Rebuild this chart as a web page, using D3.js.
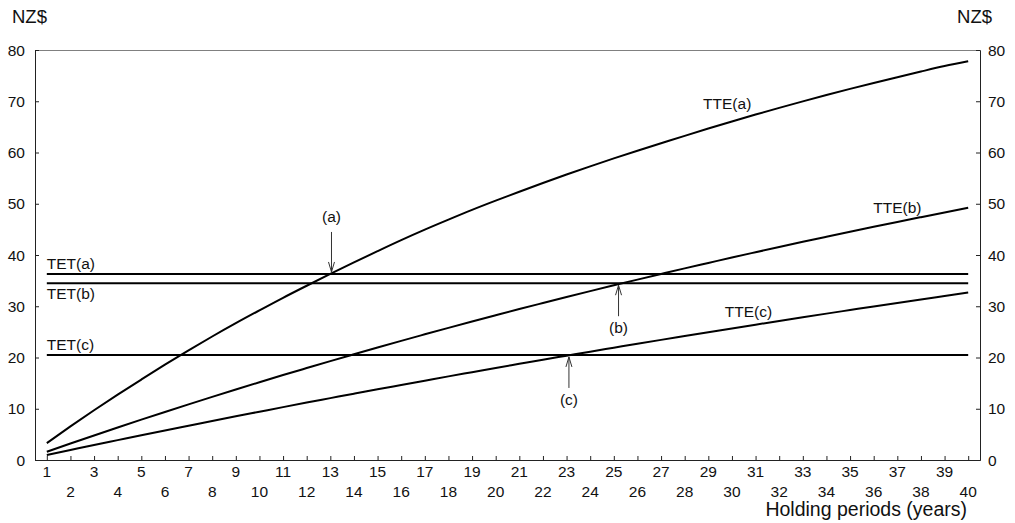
<!DOCTYPE html>
<html>
<head>
<meta charset="utf-8">
<script src="https://cdn.jsdelivr.net/npm/d3@7"></script>
<style>
  html, body { margin: 0; padding: 0; background: #fff; }
  svg { display: block; font-family: "Liberation Sans", Arial, sans-serif; }
</style>
</head>
<body>
<svg id="chart" width="1015" height="523"></svg>
<script>
// ---- data ----
const years = d3.range(1, 41);
const tteA = [3.30, 6.55, 9.70, 12.75, 15.70, 18.60, 21.40, 24.10, 26.70, 29.20,
  31.65, 34.00, 36.30, 38.55, 40.75, 42.90, 44.95, 46.90, 48.80, 50.60,
  52.35, 54.05, 55.70, 57.30, 58.85, 60.35, 61.80, 63.25, 64.67, 66.05,
  67.40, 68.71, 69.98, 71.21, 72.41, 73.57, 74.70, 75.80, 76.86, 77.80];
const tteB = [1.62, 3.22, 4.79, 6.34, 7.87, 9.37, 10.85, 12.31, 13.75, 15.17,
  16.57, 17.94, 19.30, 20.63, 21.95, 23.25, 24.52, 25.78, 27.02, 28.24,
  29.45, 30.63, 31.80, 32.95, 34.08, 35.20, 36.30, 37.39, 38.45, 39.51,
  40.54, 41.56, 42.57, 43.56, 44.54, 45.50, 46.45, 47.38, 48.30, 49.21];
const tteC = [0.99, 1.96, 2.93, 3.88, 4.83, 5.77, 6.69, 7.61, 8.52, 9.42,
  10.32, 11.20, 12.07, 12.94, 13.80, 14.64, 15.48, 16.32, 17.14, 17.96,
  18.76, 19.56, 20.35, 21.14, 21.91, 22.68, 23.44, 24.19, 24.94, 25.68,
  26.41, 27.13, 27.85, 28.56, 29.26, 29.96, 30.65, 31.33, 32.00, 32.67];
const tetLevels = [36.3, 34.5, 20.5];
const tetNames = ["TET(a)", "TET(b)", "TET(c)"];
const yTicks = [0, 10, 20, 30, 40, 50, 60, 70, 80];
const xTicks = d3.range(1, 41);
const tteLabels = [
  {text: "TTE(a)", x: 29.8, y: 68.4},
  {text: "TTE(b)", x: 37.0, y: 48.2},
  {text: "TTE(c)", x: 30.7, y: 27.9}
];
const crossings = [
  {text: "(a)", x: 13.05, y: 36.3, dir: "down"},
  {text: "(b)", x: 25.2, y: 34.5, dir: "up"},
  {text: "(c)", x: 23.1, y: 20.5, dir: "up"}
];

// ---- layout ----
const svg = d3.select("#chart");
const L = 35, R = 980, T = 50, B = 460;
const x = d3.scaleLinear().domain([0.5, 40.5]).range([L, R]);
const y = d3.scaleLinear().domain([0, 80]).range([B, T]);

// top border
svg.append("line").attr("x1", L).attr("x2", R).attr("y1", T + 0.5).attr("y2", T + 0.5)
  .attr("stroke", "#808080").attr("stroke-width", 1.2);

// left axis
const yl = svg.append("g").attr("transform", `translate(${L},0)`)
  .call(d3.axisRight(y).tickValues(yTicks).tickSize(4).tickFormat(""));
yl.select(".domain").attr("stroke", "#222");
yl.selectAll(".tick line").attr("stroke", "#222");
svg.selectAll(".ylab-l").data(yTicks).join("text")
  .attr("x", 25).attr("y", d => y(d)).attr("dy", "0.36em")
  .attr("text-anchor", "end").attr("font-size", 15.5).attr("fill", "#111").text(d => d);

// right axis
const yr = svg.append("g").attr("transform", `translate(${R},0)`)
  .call(d3.axisLeft(y).tickValues(yTicks).tickSize(4).tickFormat(""));
yr.select(".domain").attr("stroke", "#222");
yr.selectAll(".tick line").attr("stroke", "#222");
svg.selectAll(".ylab-r").data(yTicks).join("text")
  .attr("x", 988).attr("y", d => y(d)).attr("dy", "0.36em")
  .attr("text-anchor", "start").attr("font-size", 15.5).attr("fill", "#111").text(d => d);

// bottom axis
const xa = svg.append("g").attr("transform", `translate(0,${B})`)
  .call(d3.axisTop(x).tickValues(xTicks).tickSize(4).tickFormat("").tickSizeOuter(0));
xa.select(".domain").attr("stroke", "#222");
xa.selectAll(".tick line").attr("stroke", "#222");
svg.selectAll(".xlab").data(xTicks).join("text")
  .attr("x", d => x(d)).attr("y", d => d % 2 === 1 ? 477 : 497)
  .attr("text-anchor", "middle").attr("font-size", 15.5).attr("fill", "#111").text(d => d);

// unit labels
svg.append("text").attr("x", 12).attr("y", 23).attr("font-size", 18.5).attr("fill", "#111").text("NZ$");
svg.append("text").attr("x", 992).attr("y", 23).attr("font-size", 18.5).attr("fill", "#111")
  .attr("text-anchor", "end").text("NZ$");
svg.append("text").attr("x", 967).attr("y", 516).attr("font-size", 19.5).attr("fill", "#111")
  .attr("text-anchor", "end").text("Holding periods (years)");

// TET horizontal lines
tetLevels.forEach((v, i) => {
  svg.append("line").attr("x1", x(1)).attr("x2", x(40)).attr("y1", y(v)).attr("y2", y(v))
    .attr("stroke", "#000").attr("stroke-width", 2);
});
svg.append("text").attr("x", x(1)).attr("y", y(tetLevels[0]) - 5).attr("font-size", 15.5).attr("fill", "#111").text(tetNames[0]);
svg.append("text").attr("x", x(1)).attr("y", y(tetLevels[1]) + 16).attr("font-size", 15.5).attr("fill", "#111").text(tetNames[1]);
svg.append("text").attr("x", x(1)).attr("y", y(tetLevels[2]) - 5).attr("font-size", 15.5).attr("fill", "#111").text(tetNames[2]);

// TTE curves
const line = d3.line().x((d, i) => x(years[i])).y(d => y(d)).curve(d3.curveMonotoneX);
[tteA, tteB, tteC].forEach(s => {
  svg.append("path").datum(s).attr("d", line).attr("fill", "none")
    .attr("stroke", "#000").attr("stroke-width", 2);
});
tteLabels.forEach(l => {
  svg.append("text").attr("x", x(l.x)).attr("y", y(l.y)).attr("text-anchor", "middle")
    .attr("font-size", 15.5).attr("fill", "#111").text(l.text);
});

// crossing arrows
crossings.forEach(c => {
  const px = x(c.x), py = y(c.y);
  const gx = svg.append("g").attr("stroke", "#333").attr("stroke-width", 1).attr("fill", "none");
  if (c.dir === "down") {
    gx.append("line").attr("x1", px).attr("x2", px).attr("y1", py - 42).attr("y2", py - 2);
    gx.append("path").attr("d", `M${px - 3},${py - 12} L${px},${py - 2} L${px + 3},${py - 12}`);
    svg.append("text").attr("x", px).attr("y", py - 52).attr("text-anchor", "middle")
      .attr("font-size", 15.5).attr("fill", "#111").text(c.text);
  } else {
    gx.append("line").attr("x1", px).attr("x2", px).attr("y1", py + 2).attr("y2", py + 33);
    gx.append("path").attr("d", `M${px - 3},${py + 12} L${px},${py + 2} L${px + 3},${py + 12}`);
    svg.append("text").attr("x", px).attr("y", py + 50).attr("text-anchor", "middle")
      .attr("font-size", 15.5).attr("fill", "#111").text(c.text);
  }
});
</script>
</body>
</html>
